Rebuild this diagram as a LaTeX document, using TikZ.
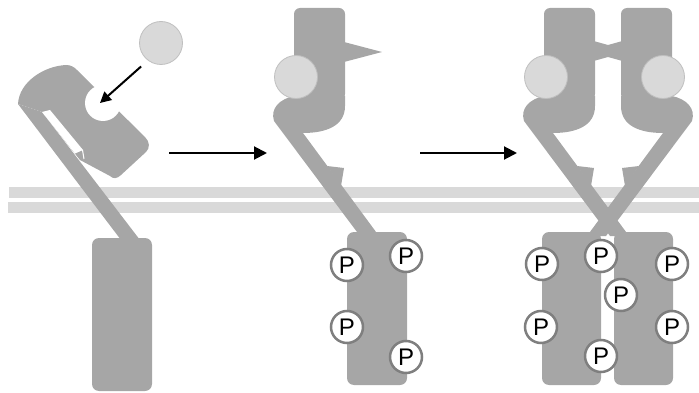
\documentclass[tikz,border=0pt]{standalone}
\usepackage{fontspec}
\setmainfont{Liberation Sans}
\usetikzlibrary{arrows.meta}

\definecolor{rgray}{HTML}{A6A6A6}
\definecolor{lgray}{HTML}{D9D9D9}
\definecolor{lborder}{HTML}{BFBFBF}
\definecolor{pborder}{HTML}{7F7F7F}

% upright receptor: extracellular head, bulge, transmembrane stalk and knob
\newcommand{\receptorshape}{%
  \fill[rgray, rounded corners=6pt] (294,100) -- (294,8) -- (345,8) -- (345,100) -- cycle;
  \fill[rgray] (345,96) -- (345,106) .. controls (345,126) and (326,133) .. (303,133)
     -- (379,236) -- (360,236) -- (274,121) .. controls (270,108) and (280,99) .. (294,96) -- cycle;
  \fill[rgray] (327,166) -- (344,168) -- (341,186) -- cycle;
}

\tikzset{
  kbox/.style={fill=rgray, rounded corners=7pt, minimum width=60pt, minimum height=153pt, inner sep=0pt},
  lig/.style={circle, fill=lgray, draw=lborder, line width=0.8pt, minimum size=43pt, inner sep=0pt},
  phos/.style={circle, draw=pborder, line width=2.5pt, fill=white, minimum size=32pt,
               inner sep=0pt, font=\fontsize{24}{24}\selectfont},
  flow/.style={draw=black, line width=2pt, -{Triangle[length=13pt,width=13pt]}},
  bind/.style={draw=black, line width=2pt, -{Triangle[length=11pt,width=11pt]}},
}

\begin{document}
\begin{tikzpicture}[x=1pt, y=-1pt]
\useasboundingbox (0,0) rectangle (699,393);

% membrane bilayer
\fill[lgray] (9,187) rectangle (699,198);
\fill[lgray] (8,202) rectangle (699,213);

% intracellular kinase domains
\node[kbox] (k1)  at (122,314.5) {};
\node[kbox] (k2)  at (377,308.5) {};
\node[kbox, minimum width=59pt] (k3a) at (571.5,308.5) {};
\node[kbox, minimum width=59pt] (k3b) at (643.5,308.5) {};

% inactive receptor, tilted, with empty binding site
\fill[rgray] (18,104) .. controls (19,82) and (44,66) .. (66,65)
   .. controls (71,65) and (74,67) .. (77,70)
   -- (145,137) .. controls (150,142) and (150,148) .. (146,152)
   -- (121,175) .. controls (117,179) and (113,179) .. (110,176)
   -- (80,160) -- (42,112) -- cycle;
\fill[rgray] (18,104) -- (121,240) -- (140,240) -- (42,112) -- cycle;
% slit between stalk and head, with its small notch
\fill[white] (42,112) -- (50,110) -- (83,150) -- (75,153.5) -- cycle;
\draw[white, line width=1pt] (82.5,150) -- (84,159);
% empty ligand pocket
\fill[white] (103,103) circle[radius=18pt];

% ligand-bound monomer
\receptorshape
\fill[rgray] (344,42) -- (382,52) -- (344,62) -- cycle;

% dimer with crossed stalks
\begin{scope}[xshift=250pt]
  \receptorshape
\end{scope}
\begin{scope}[xshift=966pt, xscale=-1]
  \receptorshape
\end{scope}
\fill[rgray] (590,40) -- (608,45) -- (626,40) -- (626,62) -- (608,57) -- (590,62) -- cycle;

% ligands
\node[lig] (lig1) at (161,43) {};
\node[lig] (lig2) at (296,77) {};
\node[lig] (lig3a) at (546,77) {};
\node[lig] (lig3b) at (663,77) {};

% phosphorylated sites
\node[phos] (p2a) at (347,265) {P};
\node[phos] (p2b) at (406,256) {P};
\node[phos] (p2c) at (347,327) {P};
\node[phos] (p2d) at (406,357) {P};

\node[phos] (p3a) at (542,264) {P};
\node[phos] (p3b) at (601,256) {P};
\node[phos] (p3c) at (621,295) {P};
\node[phos] (p3d) at (672,264) {P};
\node[phos] (p3e) at (541,327) {P};
\node[phos] (p3f) at (672,327) {P};
\node[phos] (p3g) at (601,356) {P};

% arrows
\coordinate (site1) at (100,103);
\draw[bind, shorten <=9pt] (lig1.233) -- (site1);

\coordinate (s1) at (169,153);
\coordinate (e1) at (267,153);
\coordinate (s2) at (420,153);
\coordinate (e2) at (517,153);
\draw[flow] (s1) -- (e1);
\draw[flow] (s2) -- (e2);
\end{tikzpicture}
\end{document}
